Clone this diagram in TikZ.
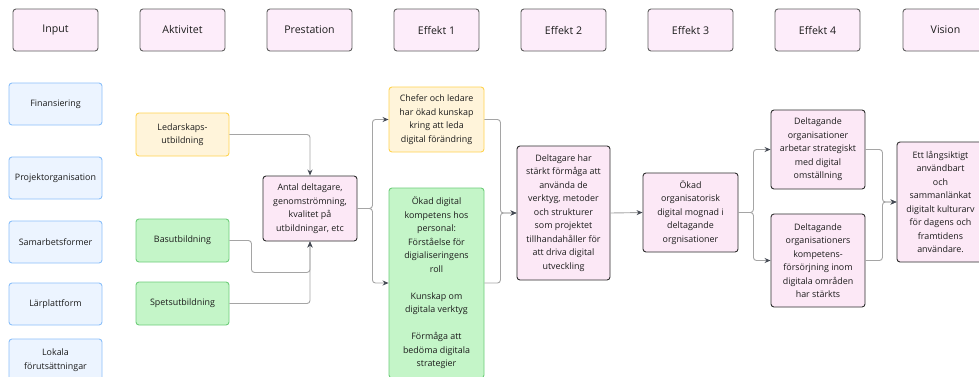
\documentclass[tikz,border=0pt]{standalone}
\usepackage{fontspec}
\setmainfont{Open Sans}
\usetikzlibrary{arrows.meta}
\definecolor{hfill}{RGB}{253,237,250}
\definecolor{hdraw}{RGB}{95,95,95}
\definecolor{pfill}{RGB}{252,232,246}
\definecolor{pdraw}{RGB}{45,45,45}
\definecolor{bfill}{RGB}{236,244,255}
\definecolor{bdraw}{RGB}{140,192,250}
\definecolor{yfill}{RGB}{255,244,218}
\definecolor{ydraw}{RGB}{255,212,80}
\definecolor{gfill}{RGB}{196,245,200}
\definecolor{gdraw}{RGB}{110,205,122}
\definecolor{lcol}{RGB}{165,165,165}
\definecolor{tipcol}{RGB}{70,75,85}
\definecolor{txt}{RGB}{28,28,28}
\tikzset{
  x=1pt,y=-1pt,
  box/.style={rectangle,rounded corners=3pt,line width=0.9pt,align=center,inner sep=0pt,text=txt,
    font=\fontsize{8.9}{13.5}\selectfont},
  hdr/.style={box,fill=hfill,draw=hdraw,minimum width=85pt,minimum height=42pt,font=\fontsize{10.6}{12}\selectfont},
  pbox/.style={box,fill=pfill,draw=pdraw},
  bbox/.style={box,fill=bfill,draw=bdraw,minimum width=93pt,minimum height=42pt},
  ybox/.style={box,fill=yfill,draw=ydraw},
  gbox/.style={box,fill=gfill,draw=gdraw},
  conn/.style={draw=lcol,line width=0.9pt,rounded corners=3pt,-{Stealth[length=6pt,width=5pt,color=tipcol]}},
}
\begin{document}
\begin{tikzpicture}
\useasboundingbox (0,0) rectangle (979,376);
\fill[white] (0,0) rectangle (979,376);
% headers
\node[hdr] (h1) at (55.5,30) {Input};
\node[hdr] (h2) at (182.5,30) {Aktivitet};
\node[hdr] (h3) at (309.5,30) {Prestation};
\node[hdr] (h4) at (436.5,30) {Effekt 1};
\node[hdr] (h5) at (563.5,30) {Effekt 2};
\node[hdr] (h6) at (690.5,30) {Effekt 3};
\node[hdr] (h7) at (817.5,30) {Effekt 4};
\node[hdr] (h8) at (945.5,30) {Vision};
% inputs
\node[bbox] (fin) at (55.5,104) {Finansiering};
\node[bbox] (proj) at (55.5,178) {Projektorganisation};
\node[bbox] (sam) at (55.5,242) {Samarbetsformer};
\node[bbox] (lar) at (55.5,304) {Lärplattform};
\node[bbox] (lok) at (55.5,360) {Lokala\\förutsättningar};
% activities
\node[ybox,minimum width=93pt,minimum height=43pt] (led) at (182.5,134.5) {Ledarskaps-\\utbildning};
\node[gbox,minimum width=93pt,minimum height=43pt] (bas) at (182.5,240.5) {Basutbildning};
\node[gbox,minimum width=93pt,minimum height=43pt] (spets) at (182.5,303.5) {Spetsutbildning};
% prestation
\node[pbox,minimum width=94pt,minimum height=65pt] (pres) at (310,208.5) {Antal deltagare,\\genomströmning,\\kvalitet på\\utbildningar, etc};
% effekt 1
\node[ybox,minimum width=95pt,minimum height=65pt] (chef) at (436.5,119.5) {Chefer och ledare\\har ökad kunskap\\kring att leda\\digital förändring};
\node[gbox,minimum width=95pt,minimum height=190pt] (okad) at (436.5,283) {Ökad digital\\kompetens hos\\personal:\\Förståelse för\\digialiseringens\\roll\\[13.5pt]Kunskap om\\digitala verktyg\\[13.5pt]Förmåga att\\bedöma digitala\\strategier};
% effekt 2
\node[pbox,minimum width=93pt,minimum height=134pt] (delt) at (563.5,213) {Deltagare har\\stärkt förmåga att\\använda de\\verktyg, metoder\\och strukturer\\som projektet\\tillhandahåller för\\att driva digital\\utveckling};
% effekt 3
\node[pbox,minimum width=95pt,minimum height=79pt] (org) at (690.5,212.5) {Ökad\\organisatorisk\\digital mognad i\\deltagande\\orgnisationer};
% effekt 4
\node[pbox,minimum width=94pt,minimum height=79pt] (e4a) at (818,149.5) {Deltagande\\organisationer\\arbetar strategiskt\\med digital\\omställning};
\node[pbox,minimum width=94pt,minimum height=93pt] (e4b) at (818,260.5) {Deltagande\\organisationers\\kompetens-\\försörjning inom\\digitala områden\\har stärkts};
% vision
\node[pbox,minimum width=87pt,minimum height=120pt] (vis) at (940.5,202) {Ett långsiktigt\\användbart\\och\\sammanlänkat\\digitalt kulturarv\\för dagens och\\framtidens\\användare.};
% connectors
\draw[conn] (led.east) -| (pres.north);
\draw[conn] (bas.east) -- ++(22,0) |- ([yshift=-31pt]pres.south) -- (pres.south);
\draw[conn] (spets.east) -| (pres.south);
\draw[conn] (pres.east) -- ++(15,0) |- (chef.west);
\draw[conn] (pres.east) -- ++(15,0) |- (okad.west);
\draw[conn] (chef.east) -- ++(16,0) |- (delt.west);
\draw[conn] (okad.east) -- ++(16,0) |- (delt.west);
\draw[conn] (delt.east) -- (org.west);
\draw[conn] (org.east) -- ++(15,0) |- (e4a.west);
\draw[conn] (org.east) -- ++(15,0) |- (e4b.west);
\draw[conn] (e4a.east) -- ++(17,0) |- (vis.west);
\draw[conn] (e4b.east) -- ++(17,0) |- (vis.west);
\end{tikzpicture}
\end{document}
